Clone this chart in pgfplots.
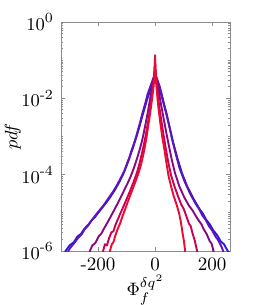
\documentclass[border=0pt]{standalone}
\usepackage{amsmath}
\usepackage{pgfplots}
\pgfplotsset{compat=1.18}
\definecolor{cA}{RGB}{40,25,225}
\definecolor{cB}{RGB}{95,20,185}
\definecolor{cC}{RGB}{135,10,130}
\definecolor{cD}{RGB}{205,0,80}
\definecolor{cE}{RGB}{235,10,50}
\begin{document}
\begin{tikzpicture}
\begin{axis}[
  scale only axis, width=84.5pt, height=114.5pt,
  at={(0,0)}, anchor=south west,
  ymode=log, xmin=-330, xmax=263, ymin=1e-6, ymax=1,
  xtick={-200,0,200}, xticklabels={-200,0,200},
  ytick={1e-6,1e-4,1e-2,1},
  yticklabels={$10^{\text{-}6}$,$10^{\text{-}4}$,$10^{\text{-}2}$,$10^{0}$},
  minor ytick={2e-6,3e-6,4e-6,5e-6,6e-6,7e-6,8e-6,9e-6,1e-5,2e-5,3e-5,4e-5,5e-5,6e-5,7e-5,8e-5,9e-5,
    2e-4,3e-4,4e-4,5e-4,6e-4,7e-4,8e-4,9e-4,1e-3,2e-3,3e-3,4e-3,5e-3,6e-3,7e-3,8e-3,9e-3,
    2e-2,3e-2,4e-2,5e-2,6e-2,7e-2,8e-2,9e-2,1e-1,2e-1,3e-1,4e-1,5e-1,6e-1,7e-1,8e-1,9e-1},
  tick align=inside, major tick length=2.2pt, minor tick length=1.2pt,
  axis line style={black!45}, every tick/.style={black!45},
  tick label style={font=\fontsize{9.5}{11}\selectfont, black},
  label style={font=\fontsize{9.5}{11}\selectfont},
  xlabel={$\Phi_f^{\delta q^2}$}, ylabel={$pdf$},
  xlabel style={at={(axis description cs:0.5,-0.17)}, anchor=center},
  ylabel style={at={(axis description cs:-0.285,0.5)}, anchor=center},
  every axis plot/.append style={line width=0.95pt, line join=round},
]
% blue
\addplot[cA] coordinates {
(-316,0.95e-6)(-300,1.4e-6)(-285,1.7e-6)(-272,2.4e-6)(-260,2.8e-6)(-247,3.9e-6)(-235,4.8e-6)(-222,6.4e-6)(-210,7.9e-6)(-190,1.23e-5)(-170,1.9e-5)(-155,2.75e-5)(-140,4.1e-5)(-125,6.5e-5)(-111,1.07e-4)(-103,1.5e-4)(-95,2.14e-4)(-87,3.2e-4)(-79,4.7e-4)(-71,7.2e-4)(-63,1.12e-3)(-55,1.8e-3)(-47,2.95e-3)(-37,5.4e-3)(-27,9.8e-3)(-17,1.62e-2)(-8,2.4e-2)(0,3.4e-2)
(8,2.4e-2)(17,1.58e-2)(25,1e-2)(34,5.6e-3)(43,3.1e-3)(54,1.41e-3)(64,6.8e-4)(79,2.6e-4)(94,1.12e-4)(112,5.1e-5)(134,2.4e-5)(155,1.29e-5)(168,9.5e-6)(180,6.5e-6)(192,5e-6)(205,3.4e-6)(218,2.6e-6)(230,1.8e-6)(242,1.5e-6)(255,1e-6)(260,0.9e-6)};
% blue-purple
\addplot[cB] coordinates {
(-306,0.95e-6)(-298,1.2e-6)(-284,1.6e-6)(-270,2.2e-6)(-258,2.7e-6)(-247,3.7e-6)(-235,4.6e-6)(-223,6.3e-6)(-200,1.05e-5)(-180,1.6e-5)(-162,2.5e-5)(-147,3.6e-5)(-133,5.4e-5)(-119,8.5e-5)(-105,1.4e-4)(-98,2e-4)(-90,2.8e-4)(-83,4.2e-4)(-75,6.2e-4)(-67,9.5e-4)(-60,1.48e-3)(-52,2.4e-3)(-45,3.9e-3)(-35,7.1e-3)(-26,1.3e-2)(-16,2.1e-2)(-8,3.1e-2)(0,4.5e-2)
(7,3.2e-2)(16,2.1e-2)(23,1.32e-2)(31,7.4e-3)(40,4.1e-3)(50,1.86e-3)(59,8.9e-4)(73,3.4e-4)(86,1.48e-4)(103,6.8e-5)(123,3.2e-5)(143,1.7e-5)(155,1.25e-5)(166,8.5e-6)(178,6.5e-6)(189,4.5e-6)(200,3.5e-6)(212,2.4e-6)(222,1.9e-6)(234,1.25e-6)(240,0.95e-6)};
% purple
\addplot[cC] coordinates {
(-230,0.95e-6)(-220,1.4e-6)(-210,1.6e-6)(-198,2.4e-6)(-188,2.9e-6)(-178,4e-6)(-163,6.3e-6)(-147,1.05e-5)(-129,1.9e-5)(-115,3.1e-5)(-100,5.2e-5)(-86,8.8e-5)(-75,1.45e-4)(-65,2.4e-4)(-56,4e-4)(-47,7e-4)(-40,1.2e-3)(-33,2.2e-3)(-25,4.5e-3)(-18,9e-3)(-11,1.8e-2)(-5,3.2e-2)(0,6e-2)
(5,3.2e-2)(11,1.8e-2)(17,1e-2)(24,5.2e-3)(32,2.5e-3)(40,1.2e-3)(49,5.5e-4)(59,2.4e-4)(70,1.1e-4)(85,5e-5)(103,2.5e-5)(120,1.5e-5)(132,1.15e-5)(142,8.5e-6)(155,6e-6)(163,5e-6)(170,3.8e-6)(181,2.8e-6)(192,1.8e-6)(198,1.6e-6)(206,0.95e-6)};
% crimson
\addplot[cD] coordinates {
(-183,0.95e-6)(-176,1.5e-6)(-169,1.4e-6)(-161,2.2e-6)(-153,3.1e-6)(-146,3.3e-6)(-139,4.8e-6)(-128,7.5e-6)(-115,1.25e-5)(-102,2.1e-5)(-88,3.7e-5)(-75,6.5e-5)(-64,1.1e-4)(-55,1.9e-4)(-47,3.4e-4)(-39,6.2e-4)(-32,1.15e-3)(-25,2.3e-3)(-18,5e-3)(-12,1e-2)(-7,2e-2)(-3,4e-2)(0,1e-1)
(3,4e-2)(7,2e-2)(11,1e-2)(16,5.2e-3)(22,2.6e-3)(29,1.2e-3)(37,5.2e-4)(46,2.2e-4)(56,9.8e-5)(68,5e-5)(80,2.8e-5)(92,1.65e-5)(101,1.25e-5)(109,8.5e-6)(119,5.2e-6)(125,4.5e-6)(131,3e-6)(140,1.8e-6)(148,0.95e-6)};
% red
\addplot[cE] coordinates {
(-159,0.95e-6)(-152,1.5e-6)(-146,1.7e-6)(-139,2.6e-6)(-131,3.8e-6)(-123,5.2e-6)(-115,7.8e-6)(-105,1.25e-5)(-94,2.1e-5)(-82,3.6e-5)(-70,6.2e-5)(-58,1.1e-4)(-48,2e-4)(-39,4e-4)(-31,8.5e-4)(-24,1.9e-3)(-17,4.2e-3)(-11,9e-3)(-6,1.8e-2)(-3,3e-2)(-1.5,6e-2)(0,1.35e-1)
(1.5,6e-2)(3,3e-2)(6,1.6e-2)(9,9e-3)(13,4.8e-3)(18,2.4e-3)(25,1e-3)(33,4.5e-4)(40,2e-4)(47,9.5e-5)(56,5e-5)(65,2.8e-5)(75,1.7e-5)(84,1e-5)(91,5.5e-6)(97,2.8e-6)(101,1.9e-6)(106,0.95e-6)};
\end{axis}
\pgfresetboundingbox
\path (-30.5pt,-27pt) rectangle (96.5pt,125.5pt);
\end{tikzpicture}
\end{document}
